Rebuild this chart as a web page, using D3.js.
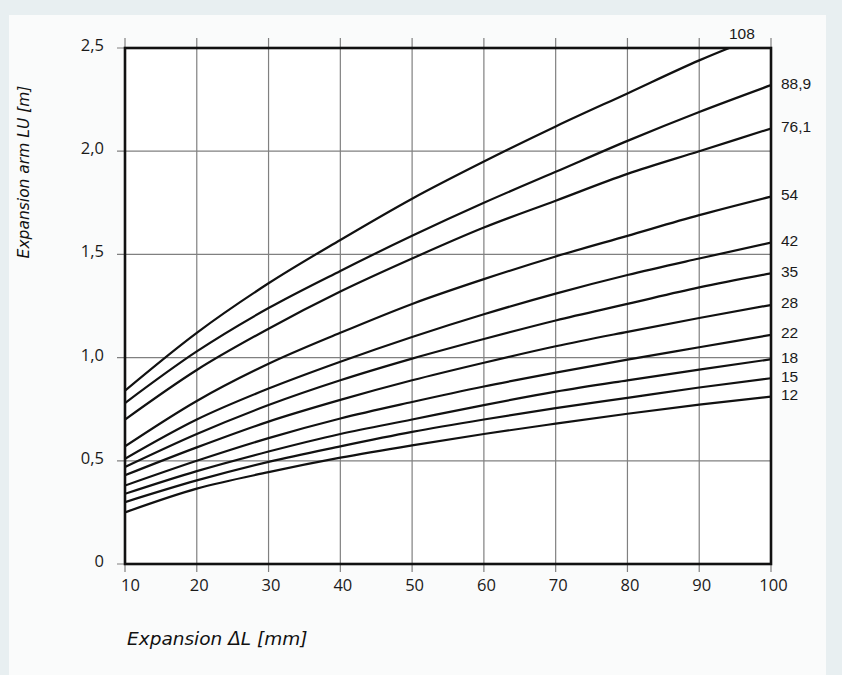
<!DOCTYPE html>
<html>
<head>
<meta charset="utf-8">
<script src="https://cdn.jsdelivr.net/npm/d3@7/dist/d3.min.js"></script>
<style>
  html, body { margin: 0; padding: 0; background: #e8eff1; }
  svg { display: block; }
</style>
</head>
<body>
<svg id="chart" width="842" height="675"></svg>
<script>
// ---- data ----
const expansionTicks = [10, 20, 30, 40, 50, 60, 70, 80, 90, 100];
const armTicks = [0, 0.5, 1.0, 1.5, 2.0, 2.5];
const armTickLabels = ["0", "0,5", "1,0", "1,5", "2,0", "2,5"];
const pipeLabels = ["108", "88,9", "76,1", "54", "42", "35", "28", "22", "18", "15", "12"];

const lu108  = [0.84, 1.12, 1.36, 1.57, 1.77, 1.95, 2.12, 2.28, 2.44, 2.58];
const lu889  = [0.78, 1.03, 1.24, 1.42, 1.59, 1.75, 1.90, 2.05, 2.19, 2.32];
const lu761  = [0.70, 0.94, 1.14, 1.32, 1.48, 1.63, 1.76, 1.89, 2.00, 2.11];
const lu54   = [0.57, 0.79, 0.97, 1.12, 1.26, 1.38, 1.49, 1.59, 1.69, 1.78];
const lu42   = [0.51, 0.70, 0.85, 0.98, 1.10, 1.21, 1.31, 1.40, 1.48, 1.557];
const lu35   = [0.47, 0.63, 0.77, 0.89, 0.995, 1.09, 1.18, 1.26, 1.34, 1.408];
const lu28   = [0.43, 0.565, 0.69, 0.795, 0.89, 0.975, 1.055, 1.125, 1.192, 1.255];
const lu22   = [0.38, 0.50, 0.61, 0.705, 0.785, 0.86, 0.927, 0.99, 1.05, 1.11];
const lu18   = [0.34, 0.45, 0.545, 0.63, 0.70, 0.77, 0.835, 0.89, 0.942, 0.992];
const lu15   = [0.30, 0.405, 0.495, 0.57, 0.64, 0.70, 0.755, 0.805, 0.855, 0.90];
const lu12   = [0.25, 0.365, 0.445, 0.515, 0.575, 0.63, 0.68, 0.728, 0.772, 0.811];

const seriesValues = [lu108, lu889, lu761, lu54, lu42, lu35, lu28, lu22, lu18, lu15, lu12];

// ---- layout ----
const svg = d3.select("#chart");
const W = 842, H = 675;
const m = { left: 125, right: 771, top: 48, bottom: 564 };
const tickFont = "'Open Sans', 'Noto Sans', sans-serif";
const labelFont = "'Liberation Sans', Arial, sans-serif";
const titleFont = "'DejaVu Sans', sans-serif";

svg.append("rect").attr("x", 0).attr("y", 0).attr("width", W).attr("height", H).attr("fill", "#e8eff1");
svg.append("rect").attr("x", 9).attr("y", 15).attr("width", 817).attr("height", 660)
  .attr("fill", "#fafbfb");

const x = d3.scaleLinear().domain([10, 100]).range([m.left, m.right]);
const y = d3.scaleLinear().domain([0, 2.5]).range([m.bottom, m.top]);

svg.append("rect").attr("x", m.left).attr("y", m.top)
  .attr("width", m.right - m.left).attr("height", m.bottom - m.top).attr("fill", "#ffffff");

// vertical grid lines (extend as ticks beyond top/bottom)
svg.append("g").selectAll("line").data(expansionTicks).join("line")
  .attr("x1", d => x(d)).attr("x2", d => x(d))
  .attr("y1", m.top - 10).attr("y2", m.bottom + 8)
  .attr("stroke", "#808080").attr("stroke-width", 1.2);

// horizontal grid lines
svg.append("g").selectAll("line").data(armTicks).join("line")
  .attr("x1", m.left - 8).attr("x2", m.right)
  .attr("y1", d => y(d)).attr("y2", d => y(d))
  .attr("stroke", "#808080").attr("stroke-width", 1.2);

// x axis tick labels
const xAxis = d3.axisBottom(x).tickValues(expansionTicks).tickSize(0).tickPadding(0)
  .tickFormat(d3.format("d"));
const gx = svg.append("g").attr("transform", `translate(0, ${m.bottom + 15})`).call(xAxis);
gx.select(".domain").remove();
gx.selectAll("text")
  .attr("font-family", tickFont).attr("font-size", 16.5)
  .attr("fill", "#1a1a1a").attr("dy", "0.71em")
  .attr("dx", d => d === 10 ? 5 : 2);

// y axis tick labels
const yAxis = d3.axisLeft(y).tickValues(armTicks).tickSize(0).tickPadding(0)
  .tickFormat((d, i) => armTickLabels[i]);
const gy = svg.append("g").attr("transform", `translate(${m.left - 21}, 0)`).call(yAxis);
gy.select(".domain").remove();
gy.selectAll("text")
  .attr("font-family", tickFont).attr("font-size", 16.5)
  .attr("fill", "#1a1a1a").attr("dy", "0.15em");

// curves
svg.append("clipPath").attr("id", "plotClip").append("rect")
  .attr("x", m.left).attr("y", m.top).attr("width", m.right - m.left).attr("height", m.bottom - m.top);

const line = d3.line()
  .x((d, i) => x(expansionTicks[i]))
  .y(d => y(d))
  .curve(d3.curveMonotoneX);

svg.append("g").attr("clip-path", "url(#plotClip)")
  .selectAll("path").data(seriesValues).join("path")
  .attr("d", d => line(d))
  .attr("fill", "none").attr("stroke", "#111").attr("stroke-width", 2.2);

// border
svg.append("rect").attr("x", m.left).attr("y", m.top)
  .attr("width", m.right - m.left).attr("height", m.bottom - m.top)
  .attr("fill", "none").attr("stroke", "#111").attr("stroke-width", 2.6);

// series labels
const labelG = svg.append("g")
  .attr("font-family", labelFont).attr("font-size", 15.5).attr("fill", "#1a1a1a");
seriesValues.forEach((vals, i) => {
  const last = vals[vals.length - 1];
  if (i === 0) {
    labelG.append("text").attr("x", x(94) + 14).attr("y", m.top - 15)
      .attr("text-anchor", "middle").attr("dominant-baseline", "central")
      .text(pipeLabels[i]);
  } else {
    labelG.append("text").attr("x", m.right + 10).attr("y", y(last) - 2)
      .attr("dominant-baseline", "central").text(pipeLabels[i]);
  }
});

// axis titles
svg.append("text")
  .attr("transform", `translate(24, 172) rotate(-90)`)
  .attr("text-anchor", "middle").attr("dominant-baseline", "central")
  .attr("font-family", titleFont).attr("font-style", "italic")
  .attr("font-size", 15.5).attr("fill", "#111")
  .text("Expansion arm LU [m]");

svg.append("text")
  .attr("x", 127).attr("y", 645)
  .attr("font-family", titleFont).attr("font-style", "italic")
  .attr("font-size", 18.5).attr("fill", "#111")
  .text("Expansion ΔL [mm]");
</script>
</body>
</html>
